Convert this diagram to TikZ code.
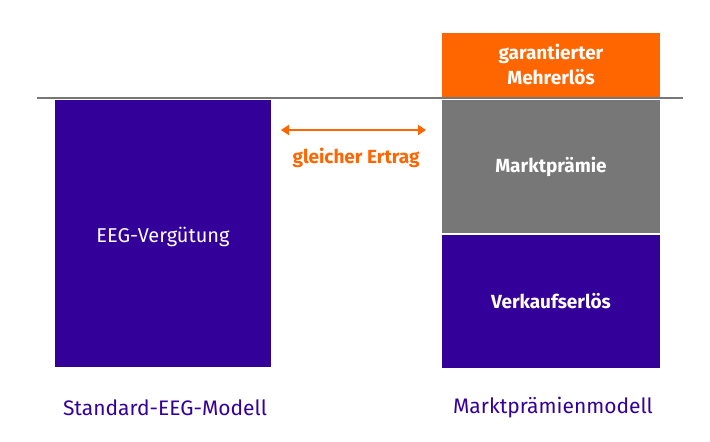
\documentclass[tikz,border=0pt]{standalone}
\usepackage{fontspec}
\setmainfont{Fira Sans}
\usetikzlibrary{arrows.meta}
\definecolor{eegpurple}{HTML}{330099}
\definecolor{eegorange}{HTML}{FF6600}
\definecolor{eeggray}{HTML}{777777}
\begin{document}
\begin{tikzpicture}[x=1pt,y=-1pt,
  bar/.style={draw=none,inner sep=0pt,text=white,align=center},
  lbl/.style={text=eegpurple,font=\fontsize{21}{24}\selectfont}]
\useasboundingbox (0,0) rectangle (710,442);
\fill[eegpurple] (55,100) rectangle (271,367);
\node[bar,font=\fontsize{20}{24}\selectfont] (eeg) at (163,237) {EEG-Vergütung};
\fill[eegorange] (442,33) rectangle (660,97);
\node[bar,font=\fontsize{19}{25}\selectfont\bfseries] (mehr) at (551,64) {garantierter\\Mehrerlös};
\fill[eeggray] (442,100) rectangle (660,233);
\node[bar,font=\fontsize{19}{22}\selectfont\bfseries] (mp) at (551,167) {Marktprämie};
\fill[eegpurple] (442,235) rectangle (660,368);
\node[bar,font=\fontsize{19}{22}\selectfont\bfseries] (vk) at (551,301) {Verkaufserlös};
\coordinate (la) at (37,98); \coordinate (lb) at (683,98);
\draw[eeggray,line width=1.5pt] (la) -- (lb);
\coordinate (a1) at (281,130); \coordinate (a2) at (426,130);
\draw[eegorange,line width=2.5pt,{Triangle[length=8pt,width=10pt]}-{Triangle[length=8pt,width=10pt]}] (a1) -- (a2);
\node[text=eegorange,font=\fontsize{19}{22}\selectfont\bfseries] (ertrag) at (356,158) {gleicher Ertrag};
\node[lbl] (std) at (165,408) {Standard-EEG-Modell};
\node[lbl] (mpm) at (553,408) {Marktprämienmodell};
\end{tikzpicture}
\end{document}
